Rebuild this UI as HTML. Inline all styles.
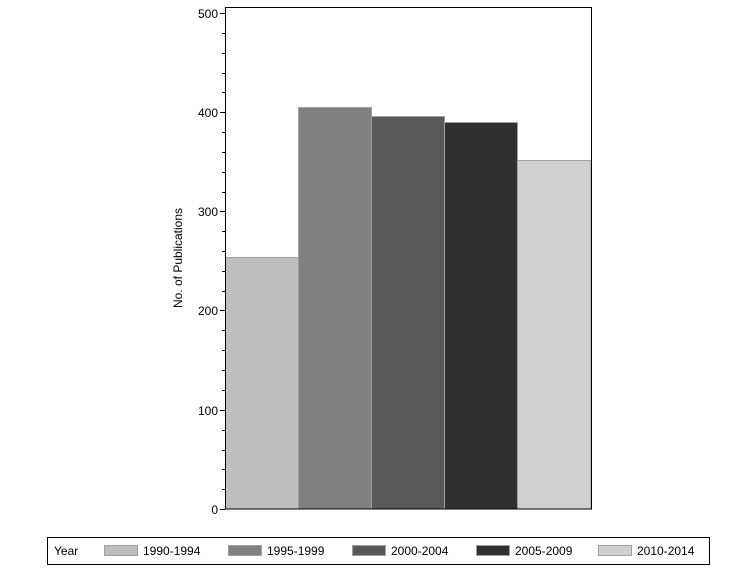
<!DOCTYPE html>
<html><head><meta charset="utf-8"><style>body{margin:0;background:#fff}</style></head><body>
<svg width="756" height="567" xmlns="http://www.w3.org/2000/svg" font-family="Liberation Sans, sans-serif" font-size="12">
<g stroke="#a0a0a0" stroke-width="1">
<rect x="225.5" y="257.5" width="73" height="251.5" fill="#bebebe"/>
<rect x="298.5" y="107.5" width="73" height="401.5" fill="#808080"/>
<rect x="371.5" y="116.5" width="73" height="392.5" fill="#585858"/>
<rect x="444.5" y="122.5" width="73" height="386.5" fill="#303030"/>
<rect x="517.5" y="160.5" width="73.5" height="348.5" fill="#d0d0d0"/>
</g>
<rect x="225.5" y="7.5" width="366" height="501.5" fill="none" stroke="#000"/>
<g stroke="#000">
<line x1="220" y1="13.5" x2="225" y2="13.5"/><line x1="220" y1="112.5" x2="225" y2="112.5"/>
<line x1="220" y1="211.5" x2="225" y2="211.5"/><line x1="220" y1="310.5" x2="225" y2="310.5"/>
<line x1="220" y1="410.5" x2="225" y2="410.5"/><line x1="220" y1="509.5" x2="225" y2="509.5"/>
<path d="M222 33.5h3M222 53.5h3M222 73.5h3M222 92.5h3M222 132.5h3M222 152.5h3M222 172.5h3M222 192.5h3M222 231.5h3M222 251.5h3M222 271.5h3M222 291.5h3M222 330.5h3M222 350.5h3M222 370.5h3M222 390.5h3M222 430.5h3M222 450.5h3M222 469.5h3M222 489.5h3"/>
</g>
<g text-anchor="end">
<text x="218" y="18">500</text><text x="218" y="117">400</text><text x="218" y="216">300</text>
<text x="218" y="315">200</text><text x="218" y="415">100</text><text x="218" y="514">0</text>
</g>
<text transform="translate(182,258) rotate(-90)" text-anchor="middle">No. of Publications</text>
<rect x="47.5" y="537.5" width="662" height="27" fill="none" stroke="#000"/>
<text x="54" y="555">Year</text>
<g stroke="#a0a0a0">
<rect x="104.5" y="545.5" width="33" height="10" fill="#bebebe"/>
<rect x="228.5" y="545.5" width="33" height="10" fill="#808080"/>
<rect x="352.5" y="545.5" width="33" height="10" fill="#585858"/>
<rect x="476.5" y="545.5" width="33" height="10" fill="#303030"/>
<rect x="598.5" y="545.5" width="33" height="10" fill="#d0d0d0"/>
</g>
<text x="143" y="555">1990-1994</text><text x="267" y="555">1995-1999</text><text x="391" y="555">2000-2004</text>
<text x="515" y="555">2005-2009</text><text x="637" y="555">2010-2014</text>
</svg>
</body></html>
